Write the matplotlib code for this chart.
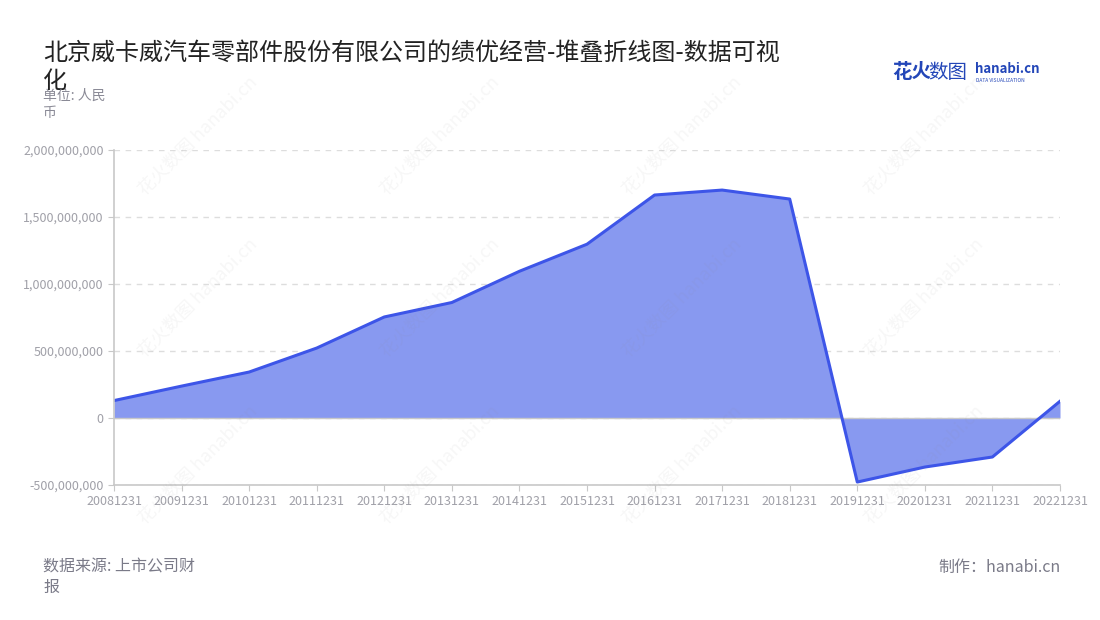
import matplotlib
matplotlib.use("Agg")
import matplotlib.pyplot as plt
from matplotlib.ticker import FuncFormatter

plt.rcParams['font.family'] = ['Noto Sans CJK SC', 'DejaVu Sans']

dates = ['20081231', '20091231', '20101231', '20111231', '20121231', '20131231',
         '20141231', '20151231', '20161231', '20171231', '20181231', '20191231',
         '20201231', '20211231', '20221231']
profit = [130e6, 238e6, 343e6, 522e6, 754e6, 862e6, 1095e6, 1297e6, 1664e6,
          1701e6, 1634e6, -478e6, -366e6, -291e6, 125e6]

line_color = '#3d55e8'
fill_color = '#8899f0'
grid_color = '#dddddd'
tick_color = '#a0a0a8'

fig = plt.figure(figsize=(11, 6.2), dpi=100)
ax = fig.add_axes([114 / 1100, 1 - 485 / 620, (1060 - 114) / 1100, (485 - 150) / 620])

x = list(range(len(dates)))
ax.fill_between(x, profit, 0, color=fill_color, linewidth=0)
ax.plot(x, profit, color=line_color, linewidth=2.2, solid_joinstyle='round')

ax.set_xlim(0, len(dates) - 1)
ax.set_ylim(-500e6, 2000e6)
ax.set_yticks([-500e6, 0, 500e6, 1000e6, 1500e6, 2000e6])
ax.yaxis.set_major_formatter(FuncFormatter(lambda v, p: f'{int(v):,}'))
ax.set_xticks(x)
ax.set_xticklabels(dates)

ax.grid(axis='y', color=grid_color, linestyle=(0, (4, 4)), linewidth=1)
ax.set_axisbelow(True)
for s in ['top', 'right']:
    ax.spines[s].set_visible(False)
ax.spines['left'].set_color('#c8c8c8')
ax.spines['bottom'].set_color('#c8c8c8')
ax.spines['left'].set_linewidth(1.2)
ax.spines['bottom'].set_linewidth(1.2)
ax.axhline(0, color='#c8c8c8', linewidth=1, zorder=1)
ax.tick_params(axis='both', colors='#c8c8c8', labelcolor=tick_color, labelsize=9, length=4)
ax.tick_params(axis='x', pad=3)

# faint watermarks
for wx in [0.18, 0.40, 0.62, 0.84]:
    for wy in [0.78, 0.52, 0.25]:
        fig.text(wx, wy, '花火数图 hanabi.cn', rotation=45, fontsize=13,
                 color='#888888', alpha=0.07, ha='center', va='center')

fig.text(43 / 1100, 1 - 40 / 620, '北京威卡威汽车零部件股份有限公司的绩优经营-堆叠折线图-数据可视\n化',
         fontsize=17.3, color='#222222', va='top', ha='left', linespacing=1.12)
fig.text(43 / 1100, 1 - 104 / 620, '单位: 人民\n币', fontsize=10, color='#8a8a96',
         va='center', ha='left', linespacing=1.3)
fig.text(43 / 1100, 1 - 577 / 620, '数据来源: 上市公司财\n报', fontsize=11.5, color='#7a7a88',
         va='center', ha='left', linespacing=1.3)
fig.text(1061 / 1100, 1 - 567 / 620, '制作：hanabi.cn', fontsize=11.5, color='#7a7a88',
         va='center', ha='right')

# logo
fig.text(892 / 1100, 1 - 73 / 620, '花火', fontsize=14, color='#2346b8', fontweight='bold',
         va='center', ha='left')
fig.text(928 / 1100, 1 - 73 / 620, '数图', fontsize=14, color='#2346b8', va='center', ha='left')
fig.text(975 / 1100, 1 - 69 / 620, 'hanabi.cn', fontsize=9.5, color='#2346b8', fontweight='bold',
         va='center', ha='left')
fig.text(976 / 1100, 1 - 80 / 620, 'DATA VISUALIZATION', fontsize=3.5, color='#2346b8',
         va='center', ha='left')

fig.savefig('out.png', dpi=100)
